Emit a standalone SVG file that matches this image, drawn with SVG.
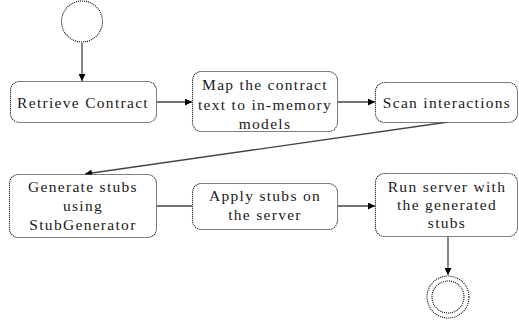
<svg xmlns="http://www.w3.org/2000/svg" width="519" height="322" viewBox="0 0 519 322">
  <style>
    .box { fill: #ffffff; stroke: #000000; stroke-width: 1.1; stroke-dasharray: 1 1; }
    .circ { fill: #ffffff; stroke: #000000; stroke-width: 1.1; stroke-dasharray: 1 1; }
    .lbl { font-family: "Liberation Serif", "Times New Roman", "DejaVu Serif", serif; font-size: 15.5px; letter-spacing: 1.3px; fill: #1a1a1a; text-anchor: middle; }
    .edge { fill: none; stroke: #444444; stroke-width: 1.3; }
  </style>
  <defs>
    <marker id="arrow" viewBox="0 0 10 10" refX="10" refY="5" markerWidth="8" markerHeight="7" markerUnits="userSpaceOnUse" orient="auto">
      <path d="M0,0 L10,5 L0,10 z" fill="#000000"/>
    </marker>
  </defs>
  <rect width="519" height="322" fill="#ffffff"/>

  <g id="connectors">
    <line class="edge" x1="82" y1="43" x2="82" y2="81" marker-end="url(#arrow)"/>
    <line class="edge" x1="157" y1="102" x2="192" y2="102" marker-end="url(#arrow)"/>
    <line class="edge" x1="338" y1="102" x2="375" y2="102" marker-end="url(#arrow)"/>
    <line class="edge" x1="448" y1="122" x2="85" y2="174" marker-end="url(#arrow)"/>
    <line class="edge" x1="157" y1="206" x2="192" y2="206"/>
    <line class="edge" x1="338" y1="206" x2="375" y2="206" marker-end="url(#arrow)"/>
    <line class="edge" x1="448" y1="237" x2="448" y2="275" marker-end="url(#arrow)"/>
  </g>

  <g id="start">
    <circle class="circ" cx="82" cy="21.5" r="20.5"/>
  </g>

  <g id="retrieve-contract">
    <rect class="box" x="10.5" y="81.5" width="146" height="41" rx="9"/>
    <text class="lbl" x="83" y="108">Retrieve Contract</text>
  </g>

  <g id="map-contract">
    <rect class="box" x="192.5" y="71.5" width="145" height="60" rx="9"/>
    <text class="lbl" x="265" y="90">Map the contract</text>
    <text class="lbl" x="265" y="109.5">text to in-memory</text>
    <text class="lbl" x="265" y="129">models</text>
  </g>

  <g id="scan-interactions">
    <rect class="box" x="375.5" y="82.5" width="142" height="40" rx="9"/>
    <text class="lbl" x="447" y="108">Scan interactions</text>
  </g>

  <g id="generate-stubs">
    <rect class="box" x="9.5" y="174.5" width="147" height="63" rx="9"/>
    <text class="lbl" x="83" y="192">Generate stubs</text>
    <text class="lbl" x="83" y="211">using</text>
    <text class="lbl" x="83" y="230">StubGenerator</text>
  </g>

  <g id="apply-stubs">
    <rect class="box" x="192.5" y="183.5" width="145" height="46" rx="9"/>
    <text class="lbl" x="265" y="201">Apply stubs on</text>
    <text class="lbl" x="265" y="220">the server</text>
  </g>

  <g id="run-server">
    <rect class="box" x="375.5" y="173.5" width="142" height="63" rx="9"/>
    <text class="lbl" x="447" y="192">Run server with</text>
    <text class="lbl" x="447" y="210">the generated</text>
    <text class="lbl" x="447" y="228">stubs</text>
  </g>

  <g id="end">
    <circle class="circ" cx="448" cy="297" r="21"/>
    <circle class="circ" cx="448" cy="297" r="16"/>
  </g>
</svg>
